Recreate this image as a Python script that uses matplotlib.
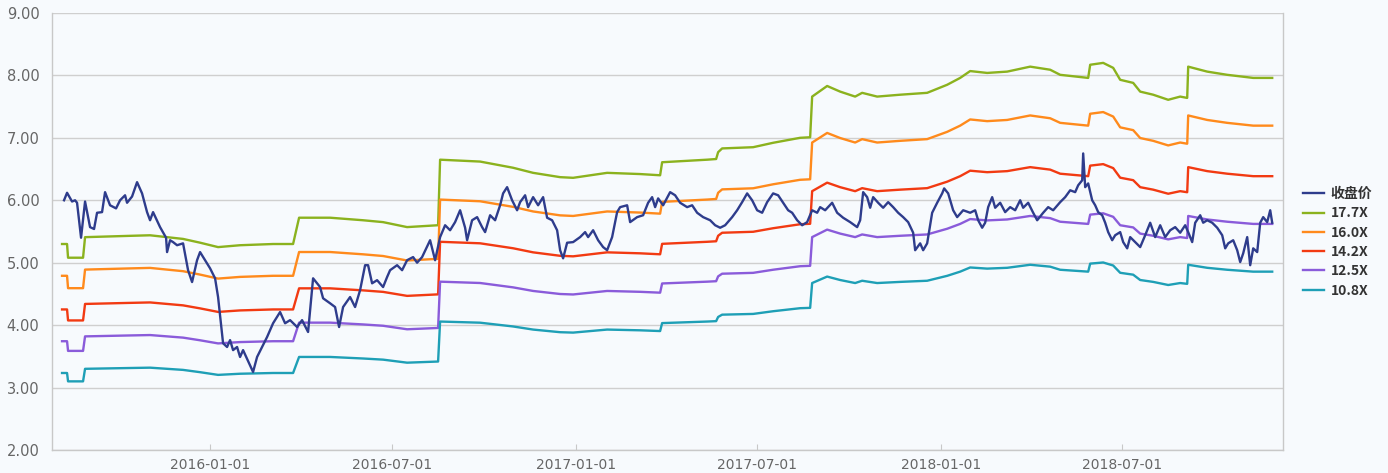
import matplotlib
matplotlib.use("Agg")
import matplotlib.pyplot as plt
import matplotlib.dates as mdates
import pandas as pd

# ---------------- data ----------------
close_dates = [
    "2015-08-08", "2015-08-11", "2015-08-16", "2015-08-19", "2015-08-21", "2015-08-25", "2015-08-29",
    "2015-09-03", "2015-09-07", "2015-09-10", "2015-09-15", "2015-09-18", "2015-09-23", "2015-09-29",
    "2015-10-03", "2015-10-08", "2015-10-10", "2015-10-15", "2015-10-20", "2015-10-25", "2015-10-30",
    "2015-11-02", "2015-11-05", "2015-11-12", "2015-11-18", "2015-11-19", "2015-11-22", "2015-11-25",
    "2015-11-29", "2015-12-05", "2015-12-10", "2015-12-14", "2015-12-19", "2015-12-22", "2015-12-27",
    "2016-01-01", "2016-01-06", "2016-01-09", "2016-01-14", "2016-01-18", "2016-01-21", "2016-01-24",
    "2016-01-28", "2016-01-31", "2016-02-03", "2016-02-13", "2016-02-17", "2016-02-27", "2016-03-04",
    "2016-03-11", "2016-03-16", "2016-03-21", "2016-03-28", "2016-04-02", "2016-04-08", "2016-04-13",
    "2016-04-20", "2016-04-23", "2016-04-30", "2016-05-05", "2016-05-09", "2016-05-13", "2016-05-20",
    "2016-05-25", "2016-05-30", "2016-06-04", "2016-06-07", "2016-06-11", "2016-06-16", "2016-06-22",
    "2016-06-26", "2016-06-29", "2016-07-06", "2016-07-11", "2016-07-16", "2016-07-22", "2016-07-26",
    "2016-07-31", "2016-08-08", "2016-08-13", "2016-08-18", "2016-08-23", "2016-08-28", "2016-09-02",
    "2016-09-07", "2016-09-12", "2016-09-14", "2016-09-19", "2016-09-24", "2016-09-29", "2016-10-02",
    "2016-10-07", "2016-10-12", "2016-10-17", "2016-10-20", "2016-10-24", "2016-10-29", "2016-11-03",
    "2016-11-06", "2016-11-11", "2016-11-14", "2016-11-19", "2016-11-24", "2016-11-29", "2016-12-03",
    "2016-12-08", "2016-12-13", "2016-12-16", "2016-12-19", "2016-12-23", "2016-12-29", "2017-01-05",
    "2017-01-10", "2017-01-13", "2017-01-18", "2017-01-23", "2017-01-28", "2017-02-01", "2017-02-06",
    "2017-02-11", "2017-02-14", "2017-02-21", "2017-02-24", "2017-03-03", "2017-03-09", "2017-03-14",
    "2017-03-18", "2017-03-21", "2017-03-24", "2017-03-29", "2017-04-05", "2017-04-10", "2017-04-15",
    "2017-04-22", "2017-04-27", "2017-05-02", "2017-05-08", "2017-05-15", "2017-05-20", "2017-05-25",
    "2017-05-30", "2017-06-06", "2017-06-11", "2017-06-16", "2017-06-21", "2017-06-26", "2017-07-01",
    "2017-07-06", "2017-07-11", "2017-07-17", "2017-07-22", "2017-07-27", "2017-08-01", "2017-08-05",
    "2017-08-10", "2017-08-15", "2017-08-20", "2017-08-25", "2017-08-30", "2017-09-02", "2017-09-07",
    "2017-09-14", "2017-09-19", "2017-09-25", "2017-10-02", "2017-10-09", "2017-10-12", "2017-10-15",
    "2017-10-19", "2017-10-22", "2017-10-25", "2017-10-30", "2017-11-04", "2017-11-09", "2017-11-14",
    "2017-11-19", "2017-11-24", "2017-11-29", "2017-12-04", "2017-12-06", "2017-12-11", "2017-12-14",
    "2017-12-18", "2017-12-23", "2017-12-28", "2018-01-02", "2018-01-04", "2018-01-08", "2018-01-13",
    "2018-01-17", "2018-01-23", "2018-01-30", "2018-02-04", "2018-02-07", "2018-02-11", "2018-02-14",
    "2018-02-17", "2018-02-21", "2018-02-24", "2018-03-01", "2018-03-06", "2018-03-11", "2018-03-16",
    "2018-03-21", "2018-03-24", "2018-03-29", "2018-04-03", "2018-04-07", "2018-04-13", "2018-04-18",
    "2018-04-23", "2018-04-30", "2018-05-05", "2018-05-10", "2018-05-15", "2018-05-18", "2018-05-22",
    "2018-05-23", "2018-05-25", "2018-05-28", "2018-06-01", "2018-06-04", "2018-06-07", "2018-06-11",
    "2018-06-14", "2018-06-17", "2018-06-21", "2018-06-24", "2018-06-29", "2018-07-02", "2018-07-06",
    "2018-07-09", "2018-07-14", "2018-07-19", "2018-07-24", "2018-07-29", "2018-08-03", "2018-08-08",
    "2018-08-13", "2018-08-18", "2018-08-23", "2018-08-28", "2018-09-02", "2018-09-05", "2018-09-09",
    "2018-09-12", "2018-09-17", "2018-09-20", "2018-09-24", "2018-09-29", "2018-10-04", "2018-10-09",
    "2018-10-12", "2018-10-15", "2018-10-20", "2018-10-24", "2018-10-27", "2018-10-30", "2018-11-03",
    "2018-11-06", "2018-11-09", "2018-11-13", "2018-11-16", "2018-11-19", "2018-11-23", "2018-11-26",
    "2018-11-28",
]
close_values = [
    6.00, 6.12, 5.98, 6.00, 5.96, 5.40, 5.98,
    5.57, 5.54, 5.80, 5.81, 6.13, 5.92, 5.87,
    6.00, 6.08, 5.96, 6.06, 6.29, 6.11, 5.81,
    5.68, 5.81, 5.57, 5.40, 5.17, 5.36, 5.33,
    5.28, 5.31, 4.88, 4.69, 5.04, 5.17, 5.04,
    4.91, 4.75, 4.45, 3.71, 3.65, 3.76, 3.60,
    3.65, 3.49, 3.60, 3.25, 3.49, 3.81, 4.03,
    4.21, 4.03, 4.08, 3.97, 4.08, 3.89, 4.75,
    4.61, 4.43, 4.35, 4.29, 3.97, 4.29, 4.45,
    4.29, 4.56, 4.96, 4.96, 4.67, 4.72, 4.61,
    4.77, 4.88, 4.96, 4.88, 5.04, 5.09, 5.00,
    5.09, 5.36, 5.04, 5.41, 5.60, 5.52, 5.65,
    5.84, 5.56, 5.36, 5.68, 5.73, 5.57, 5.49,
    5.76, 5.68, 5.92, 6.11, 6.21, 6.00, 5.84,
    5.97, 6.08, 5.89, 6.05, 5.92, 6.05, 5.72,
    5.68, 5.52, 5.20, 5.07, 5.32, 5.33, 5.41,
    5.49, 5.41, 5.52, 5.36, 5.25, 5.20, 5.41,
    5.81, 5.89, 5.92, 5.65, 5.73, 5.76, 5.96,
    6.05, 5.89, 6.03, 5.92, 6.13, 6.08, 5.96,
    5.89, 5.92, 5.80, 5.73, 5.68, 5.60, 5.56,
    5.60, 5.73, 5.84, 5.97, 6.11, 6.00, 5.84,
    5.80, 5.97, 6.11, 6.08, 5.96, 5.84, 5.80,
    5.68, 5.60, 5.65, 5.84, 5.80, 5.89, 5.84,
    5.96, 5.80, 5.72, 5.65, 5.57, 5.68, 6.13,
    6.05, 5.88, 6.05, 5.96, 5.88, 5.97, 5.89,
    5.80, 5.73, 5.65, 5.48, 5.20, 5.31, 5.20,
    5.31, 5.80, 5.96, 6.11, 6.19, 6.11, 5.84,
    5.73, 5.84, 5.80, 5.84, 5.68, 5.56, 5.64,
    5.89, 6.05, 5.88, 5.96, 5.81, 5.89, 5.84,
    6.00, 5.88, 5.96, 5.80, 5.68, 5.80, 5.89,
    5.84, 5.97, 6.05, 6.16, 6.13, 6.24, 6.32,
    6.75, 6.21, 6.27, 6.00, 5.92, 5.81, 5.76,
    5.64, 5.49, 5.36, 5.44, 5.49, 5.33, 5.23,
    5.41, 5.33, 5.25, 5.44, 5.64, 5.41, 5.60,
    5.41, 5.52, 5.57, 5.48, 5.60, 5.49, 5.33,
    5.64, 5.76, 5.64, 5.68, 5.64, 5.56, 5.44,
    5.23, 5.31, 5.36, 5.20, 5.01, 5.15, 5.41,
    4.96, 5.23, 5.17, 5.64, 5.73, 5.65, 5.84,
    5.64,
]

eps_dates = [
    "2015-08-06", "2015-08-11", "2015-08-12", "2015-08-27", "2015-08-29", "2015-10-13", "2015-11-02",
    "2015-12-05", "2015-12-22", "2016-01-09", "2016-01-31", "2016-03-04", "2016-03-24", "2016-03-30",
    "2016-04-30", "2016-06-02", "2016-06-22", "2016-07-16", "2016-08-16", "2016-08-18", "2016-09-27",
    "2016-10-30", "2016-11-19", "2016-12-16", "2016-12-29", "2017-02-01", "2017-03-06", "2017-03-26",
    "2017-03-28", "2017-05-12", "2017-05-21", "2017-05-23", "2017-05-27", "2017-06-27", "2017-07-17",
    "2017-08-13", "2017-08-23", "2017-08-25", "2017-09-09", "2017-09-22", "2017-10-07", "2017-10-14",
    "2017-10-29", "2017-11-21", "2017-12-18", "2018-01-07", "2018-01-20", "2018-01-30", "2018-02-16",
    "2018-03-08", "2018-03-31", "2018-04-20", "2018-04-30", "2018-05-28", "2018-05-30", "2018-06-12",
    "2018-06-22", "2018-06-29", "2018-07-12", "2018-07-19", "2018-08-01", "2018-08-16", "2018-08-28",
    "2018-09-04", "2018-09-05", "2018-09-24", "2018-10-14", "2018-11-09", "2018-11-28",
]
eps_values = [
    0.2994, 0.2994, 0.2870, 0.2870, 0.3056, 0.3068, 0.3073,
    0.3040, 0.3006, 0.2966, 0.2983, 0.2994, 0.2994, 0.3232,
    0.3232, 0.3209, 0.3192, 0.3147, 0.3164, 0.3757, 0.3740,
    0.3684, 0.3638, 0.3599, 0.3593, 0.3638, 0.3627, 0.3616,
    0.3734, 0.3757, 0.3763, 0.3825, 0.3859, 0.3870, 0.3910,
    0.3955, 0.3960, 0.4328, 0.4424, 0.4373, 0.4328, 0.4362,
    0.4328, 0.4345, 0.4362, 0.4435, 0.4497, 0.4559, 0.4542,
    0.4554, 0.4599, 0.4571, 0.4525, 0.4497, 0.4616, 0.4633,
    0.4588, 0.4480, 0.4452, 0.4373, 0.4345, 0.4299, 0.4328,
    0.4316, 0.4599, 0.4554, 0.4525, 0.4497, 0.4497,
]

pe_multiples = [17.7, 16.0, 14.2, 12.5, 10.8]
pe_labels = ["17.7X", "16.0X", "14.2X", "12.5X", "10.8X"]
close_label = "收盘价"

# ---------------- style ----------------
close_color = "#2E3C8C"
band_colors = ["#8BB21E", "#FF8A1C", "#F23A12", "#8A5BDA", "#1E9FB6"]
bg = "#F7FAFD"
grid_color = "#CFCFCF"
text_color = "#666666"

plt.rcParams["font.family"] = ["DejaVu Sans"]

fig = plt.figure(figsize=(13.88, 4.73), dpi=100, facecolor=bg)
ax = fig.add_axes([0.0375, 0.0486, 0.887, 0.924])
ax.set_facecolor(bg)

cd = pd.to_datetime(close_dates)
ed = pd.to_datetime(eps_dates)

ax.plot(cd, close_values, color=close_color, lw=1.7, label=close_label, zorder=5)
for m, lab, col in zip(pe_multiples, pe_labels, band_colors):
    ax.plot(ed, [e * m for e in eps_values], color=col, lw=1.7, label=lab, zorder=4)

ax.set_ylim(2, 9)
ax.set_yticks([2, 3, 4, 5, 6, 7, 8, 9])
ax.yaxis.set_major_formatter(matplotlib.ticker.FormatStrFormatter("%.2f"))
ax.set_xlim(pd.Timestamp("2015-07-27"), pd.Timestamp("2018-12-09"))
ax.set_xticks(pd.to_datetime(["2016-01-01", "2016-07-01", "2017-01-01",
                              "2017-07-01", "2018-01-01", "2018-07-01"]))
ax.xaxis.set_major_formatter(mdates.DateFormatter("%Y-%m-%d"))

ax.grid(axis="y", color=grid_color, lw=1.0)
ax.set_axisbelow(True)
for side in ["left", "right", "bottom"]:
    ax.spines[side].set_color("#C8C8C8")
    ax.spines[side].set_linewidth(1.0)
ax.spines["top"].set_visible(False)

ax.tick_params(axis="y", length=0, pad=9, labelsize=10.5, labelcolor=text_color)
ax.tick_params(axis="x", direction="in", length=4, color="#C8C8C8", pad=6,
               labelsize=10, labelcolor=text_color)

leg = ax.legend(loc="center left", bbox_to_anchor=(1.006, 0.475), frameon=False,
                handlelength=1.5, handletextpad=0.5, labelspacing=0.38,
                prop={"family": ["Noto Sans CJK SC", "DejaVu Sans"], "weight": "bold", "size": 10})
for t in leg.get_texts():
    t.set_color("#333333")

fig.savefig("out.png", dpi=100, facecolor=bg)
